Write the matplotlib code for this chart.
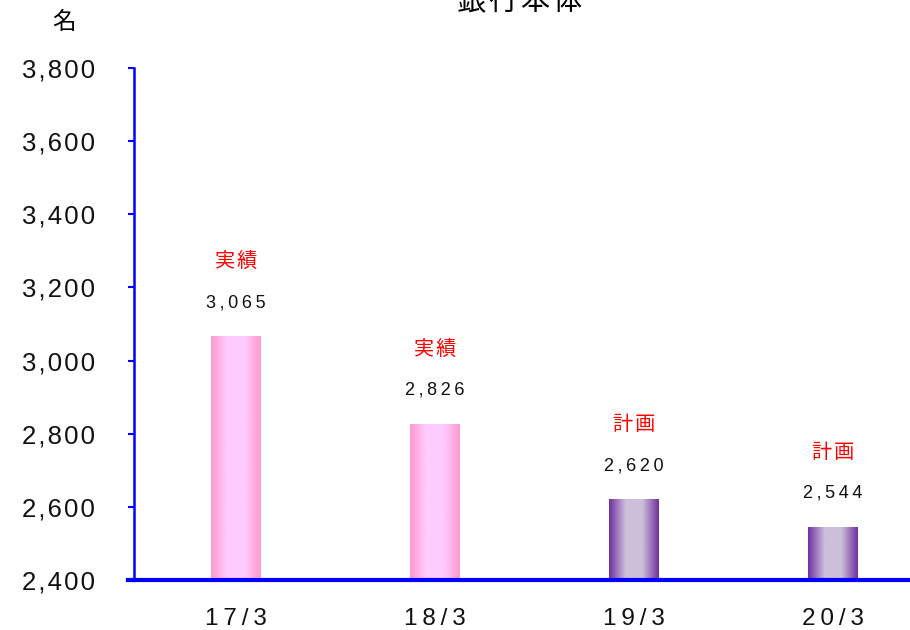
import numpy as np
import matplotlib.pyplot as plt
from matplotlib.colors import LinearSegmentedColormap

plt.rcParams['font.family'] = ['Liberation Sans', 'Noto Sans CJK JP', 'DejaVu Sans']

# data
periods = ['17/3', '18/3', '19/3', '20/3']
staff = [3065, 2826, 2620, 2544]
kinds = ['実績', '実績', '計画', '計画']
y_ticks = [2400, 2600, 2800, 3000, 3200, 3400, 3600, 3800]

HAIR = '\u200a'
THIN = '\u2009'


def spaced(s, gap):
    # imitate the letter spacing of the original
    return gap.join(s)


# gradient colours (edge -> centre -> edge)
pink = LinearSegmentedColormap.from_list('pink', ['#FF99CC', '#FFCCFF', '#FFCCFF', '#FF99CC'])
purple = LinearSegmentedColormap.from_list('purple', ['#7030A0', '#CCC0DA', '#CCC0DA', '#7030A0'])

fig = plt.figure(figsize=(9.1, 6.3), dpi=100)
ax = fig.add_axes([134 / 910, 50 / 630, 1 - 134 / 910, 512 / 630])

x = np.arange(len(periods))
bars = ax.bar(x, [v - y_ticks[0] for v in staff], bottom=y_ticks[0], width=0.25,
              color='none', edgecolor='none')

grad = np.linspace(0, 1, 256).reshape(1, -1)
for b, kind in zip(bars, kinds):
    cmap = pink if kind == '実績' else purple
    x0, y0 = b.get_x(), b.get_y()
    ax.imshow(grad, cmap=cmap, aspect='auto', extent=(x0, x0 + b.get_width(), y0, y0 + b.get_height()),
              zorder=2, interpolation='bicubic')

cjk = ['Noto Sans CJK JP', 'DejaVu Sans']
for xi, v, kind in zip(x, staff, kinds):
    ax.annotate(spaced(f'{v:,}', THIN), (xi, v), xytext=(0, 24.5), textcoords='offset points',
                ha='center', va='center', fontsize=13, color='#111111')
    ax.annotate(spaced(kind, HAIR), (xi, v), xytext=(0, 54), textcoords='offset points',
                ha='center', va='center', fontsize=14.5, color='#FF0000', family=cjk)

ax.set_xlim(-0.513, 3.387)
ax.set_ylim(2400, 3800)
ax.set_yticks(y_ticks)
ax.set_yticklabels([spaced(f'{t:,}', HAIR) for t in y_ticks], fontsize=18.5, color='#111111')
ax.set_xticks(x)
ax.set_xticklabels([spaced(p, THIN) for p in periods], fontsize=17.5, color='#111111')
ax.tick_params(axis='x', length=0, pad=20)
ax.tick_params(axis='y', direction='out', length=4.5, width=1.5, color='#0000FF', pad=23.5)

for s in ['top', 'right']:
    ax.spines[s].set_visible(False)
ax.spines['left'].set_color('#0000FF')
ax.spines['left'].set_linewidth(1.8)
ax.spines['bottom'].set_color('#0000FF')
ax.spines['bottom'].set_linewidth(3)
ax.plot([-0.008, 0], [0, 0], transform=ax.transAxes, color='#0000FF', lw=3, clip_on=False)

fig.text(520 / 910, 1 - 2 / 630, spaced('銀行本体', HAIR), ha='center', va='center',
         fontsize=21, family=cjk)
fig.text(64 / 910, 1 - 22 / 630, '名', ha='center', va='center', fontsize=17, family=cjk)

fig.savefig('out.png', dpi=100)
